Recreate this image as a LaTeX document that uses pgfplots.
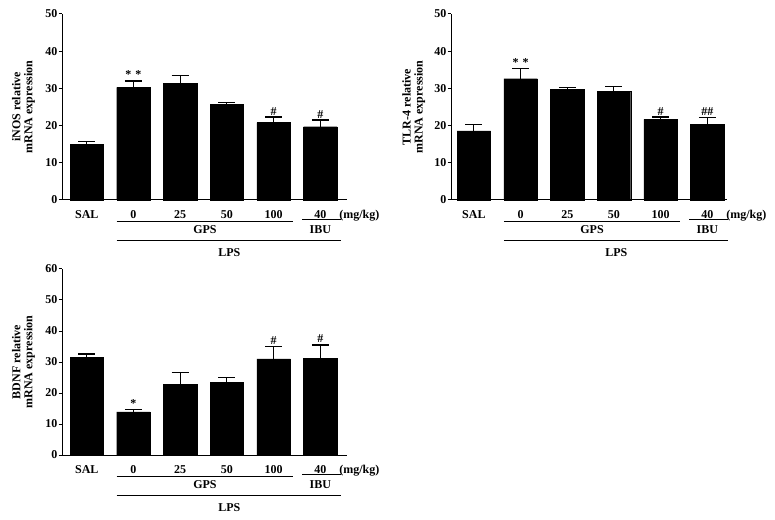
\documentclass[border=0pt]{standalone}
\usepackage{pgfplots}
\pgfplotsset{compat=1.18}
\usepackage{fontspec}
\setmainfont{Liberation Serif}

\pgfplotstableread{
x y e
0 15.0 0.7
1 30.3 1.7
2 31.3 2.2
3 25.7 0.6
4 20.8 1.5
5 19.7 1.8
}\inos
\pgfplotstableread{
x y e
0 18.6 1.8
1 32.6 2.7
2 29.8 0.5
3 29.3 1.2
4 21.7 0.6
5 20.4 1.7
}\tlr
\pgfplotstableread{
x y e
0 31.4 1.2
1 13.9 0.8
2 22.7 3.8
3 23.4 1.5
4 31.0 3.9
5 31.1 4.4
}\bdnf

\newcommand{\lblfont}{\fontsize{12}{14}\selectfont\bfseries}
\pgfplotsset{
  mybars/.style={
    scale only axis, height=186pt,
    anchor=south west,
    ymin=0,
    axis x line*=bottom, axis y line*=left,
    axis line style={-, line width=1pt},
    xtick={0,...,5},
    xticklabels={SAL,0,25,50,100,{40\rlap{\hspace{13pt}(mg/kg)}}},
    x tick style={draw=none},
    xticklabel style={font=\lblfont, anchor=base, inner sep=0pt, yshift=-15pt},
    y tick style={line width=1pt, black},
    tick align=outside,
    major tick length=3.5pt,
    yticklabel style={font=\lblfont, inner sep=1pt},
    /pgf/number format/assume math mode=true,
    ylabel style={font=\fontsize{12}{12}\selectfont\bfseries, align=center, at={(axis description cs:-0.135,0.5)}, anchor=center},
    clip=false,
  },
  barplot/.style={ybar, bar shift=0pt, bar width=33.5pt, fill=black, draw=black,
    error bars/.cd, y dir=plus, y explicit,
    error bar style={line width=1pt, black},
    error mark options={rotate=90, line width=1.2pt, mark size=8.5pt, black}},
  annot/.style={mark=none, draw=none, nodes near coords, point meta=explicit symbolic,
    every node near coord/.append style={anchor=base, font=\fontsize{12}{12}\selectfont\bfseries, inner sep=0pt, yshift=2pt, text=black}},
}
\newcommand{\groups}{%
  \draw[line width=0.8pt] ([yshift=-21pt]axis cs:0.64,0) -- ([yshift=-21pt]axis cs:4.42,0);
  \draw[line width=0.8pt] ([yshift=-19.5pt]axis cs:4.61,0) -- ([yshift=-19.5pt]axis cs:5.45,0);
  \draw[line width=0.8pt] ([yshift=-40pt]axis cs:0.64,0) -- ([yshift=-40pt]axis cs:5.45,0);
  \node[font=\lblfont, anchor=center] at ([yshift=-29.5pt]axis cs:2.53,0) {GPS};
  \node[font=\lblfont, anchor=center] at ([yshift=-29.5pt]axis cs:5,0) {IBU};
  \node[font=\lblfont, anchor=center] at ([yshift=-52.5pt]axis cs:3.05,0) {LPS};
}

\begin{document}
\begin{tikzpicture}
\path[use as bounding box] (0,0) rectangle (775pt,519pt);

% iNOS
\begin{axis}[mybars, at={(62pt,319pt)}, width=285pt, xmin=-0.53, xmax=5.57,
  ymax=50, ytick={0,10,...,50},
  ylabel={iNOS relative\\mRNA expression}]
\addplot[barplot] table[x=x, y=y, y error=e] {\inos};
\addplot[annot] coordinates {(1,32.0) [*\,\,*] (4,22.3) [\#] (5,21.5) [\#]};
\groups
\end{axis}

% TLR-4
\begin{axis}[mybars, at={(451pt,319pt)}, width=276pt, xmin=-0.49, xmax=5.42,
  ymax=50, ytick={0,10,...,50},
  ylabel={TLR-4 relative\\mRNA expression}]
\addplot[barplot] table[x=x, y=y, y error=e] {\tlr};
\addplot[annot] coordinates {(1,35.3) [*\,\,*] (4,22.3) [\#] (5,22.1) [\#\#]};
\groups
\end{axis}

% BDNF
\begin{axis}[mybars, at={(62pt,64pt)}, width=285pt, xmin=-0.53, xmax=5.57,
  ymax=60, ytick={0,10,...,60},
  ylabel={BDNF relative\\mRNA expression}]
\addplot[barplot] table[x=x, y=y, y error=e] {\bdnf};
\addplot[annot] coordinates {(1,14.7) [*] (4,34.9) [\#] (5,35.5) [\#]};
\groups
\end{axis}
\end{tikzpicture}
\end{document}
